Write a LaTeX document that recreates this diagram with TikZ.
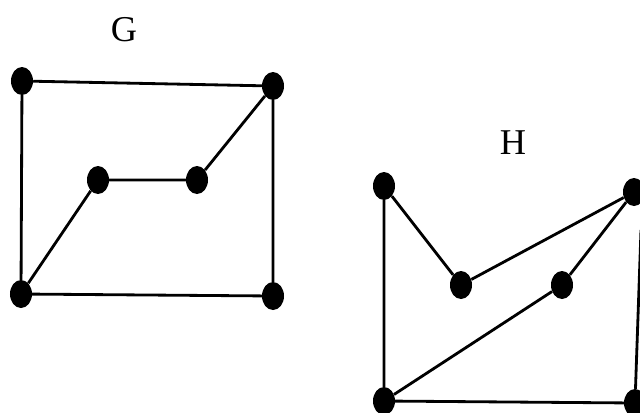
\documentclass[tikz,border=0pt]{standalone}
\usepackage{fontspec}
\setmainfont{Liberation Serif}
\usetikzlibrary{shapes.geometric}
\tikzset{vtx/.style={ellipse,fill=black,inner sep=0pt,minimum width=0.66cm,minimum height=0.84cm},
  edge/.style={line width=2.4pt},
  lbl/.style={font=\fontsize{31}{31}\selectfont}}

\begin{document}
\begin{tikzpicture}[x=0.03cm,y=-0.03cm]
\useasboundingbox (0,0) rectangle (640,412);
\clip (0,0) rectangle (640,412);
% graph G
\node[lbl] (labG) at (124,30) {G};
\foreach \name/\x/\y in {ga/22/81,gb/273/86,gc/98/180,gd/197/180,ge/21/294,gf/273/296} {
  \node[vtx] (\name) at (\x,\y) {};
}
\draw[edge] (ga) -- (gb) -- (gf) -- (ge) -- (ga);
\draw[edge] (ge) -- (gc) -- (gd) -- (gb);
% graph H
\node[lbl] (labH) at (513,143) {H};
\foreach \name/\x/\y in {ha/384/186,hb/461/285,hc/634/192,hd/562/285,he/384/401,hf/635/403} {
  \node[vtx] (\name) at (\x,\y) {};
}
\coordinate (hg) at (641,230);
\draw[edge] (he) -- (ha) -- (hb) -- (hc) -- (hd) -- (he) -- (hf) -- (hg);
\end{tikzpicture}
\end{document}
